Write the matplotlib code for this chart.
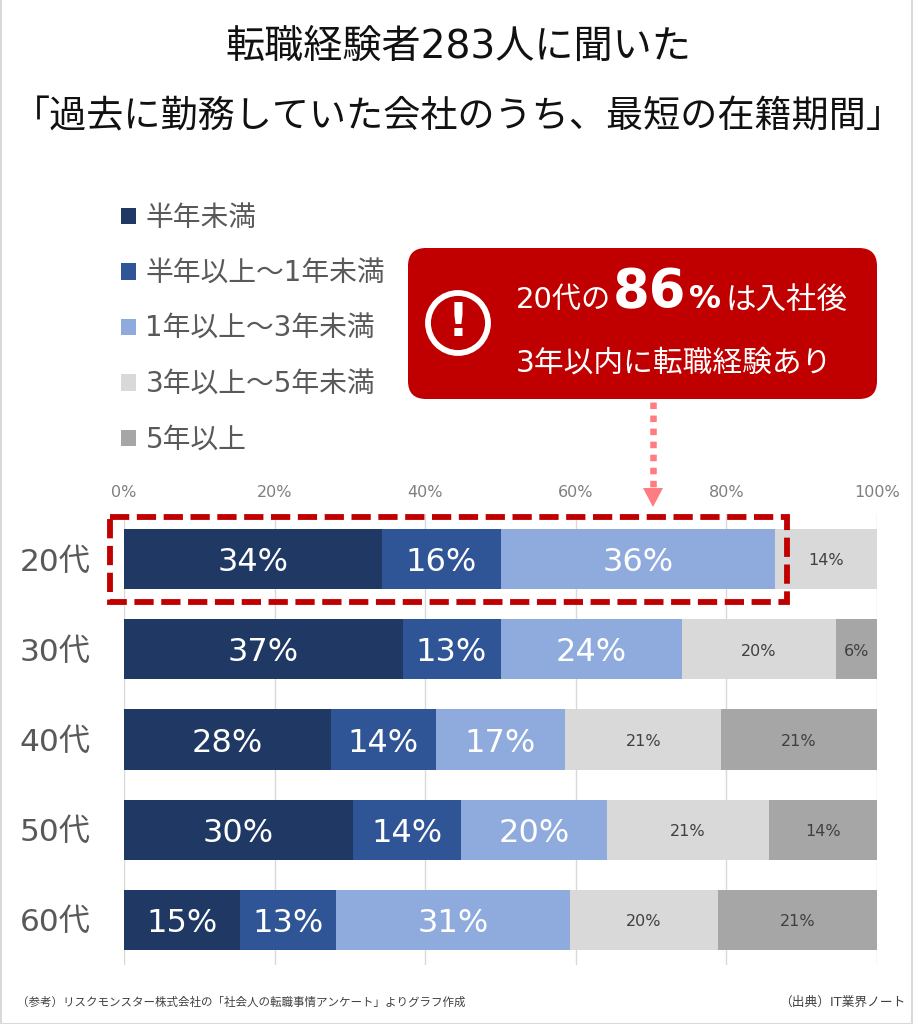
import matplotlib
matplotlib.use('Agg')
import matplotlib.pyplot as plt
from matplotlib.patches import FancyBboxPatch, Circle, Rectangle, Polygon

# Latin digits look like Verdana in the original, so DejaVu goes first
plt.rcParams['font.family'] = ['DejaVu Sans', 'Noto Sans CJK JP']

ages = ['20代', '30代', '40代', '50代', '60代']
under_half = [34.2, 37.0, 27.5, 30.4, 15.4]
half_to_1 = [15.9, 13.0, 13.9, 14.3, 12.8]
y1_to_3 = [36.4, 24.1, 17.2, 19.5, 31.0]
y3_to_5 = [13.5, 20.4, 20.7, 21.4, 19.7]
over_5 = [0.0, 5.5, 20.7, 14.4, 21.1]
series_names = ['半年未満', '半年以上～1年未満', '1年以上～3年未満', '3年以上～5年未満', '5年以上']
series_values = [under_half, half_to_1, y1_to_3, y3_to_5, over_5]
xticks = [0, 20, 40, 60, 80, 100]

colors = ['#1F3864', '#2F5597', '#8FAADC', '#D9D9D9', '#A6A6A6']
red = '#C00000'
pink = '#FF7C80'
W, H = 916, 1024

fig = plt.figure(figsize=(W / 100, H / 100), dpi=100)
ax = fig.add_axes([124 / W, 1 - 965 / H, 753 / W, 451 / H])

# stacked bars
left = [0.0] * len(ages)
for i, (name, vals) in enumerate(zip(series_names, series_values)):
    bars = ax.barh(range(len(ages)), vals, left=left, height=0.667, color=colors[i], label=name, zorder=2)
    for j, b in enumerate(bars):
        if vals[j] <= 0:
            continue
        cx = left[j] + vals[j] / 2
        if i < 3:
            ax.text(cx, j + 0.04, f'{round(vals[j])}%', color='white', fontsize=23, ha='center', va='center', zorder=3)
        else:
            ax.text(cx, j + 0.02, f'{round(vals[j])}%', color='#404040', fontsize=11.5, ha='center', va='center', zorder=3)
    left = [a + b for a, b in zip(left, vals)]

ax.set_xlim(0, 100)
ax.set_ylim(4.5, -0.5)
ax.set_xticks(xticks)
ax.set_xticklabels([f'{t}%' for t in xticks], fontsize=11.5, color='#7F7F7F')
ax.set_yticks(range(len(ages)))
ax.set_yticklabels(ages, fontsize=22.5, color='#595959')
ax.xaxis.tick_top()
ax.tick_params(axis='both', length=0)
ax.tick_params(axis='x', pad=10)
ax.tick_params(axis='y', pad=24)
ax.grid(axis='x', color='#D9D9D9', linewidth=1, zorder=0)
ax.set_axisbelow(True)
for s in ax.spines.values():
    s.set_visible(False)

ax.legend(loc='upper left', bbox_to_anchor=(121 / W, 1 - 204 / H), bbox_transform=fig.transFigure,
          frameon=False, fontsize=20, labelcolor='#595959', handlelength=0.54, handleheight=0.54,
          handletextpad=0.34, labelspacing=0.99, borderpad=0, borderaxespad=0)

# pixel overlay for title, callout and frame
ov = fig.add_axes([0, 0, 1, 1], facecolor='none')
ov.set_xlim(0, W)
ov.set_ylim(H, 0)
ov.axis('off')

ov.add_patch(Rectangle((0.5, -2), W - 5, H + 1.5, fill=False, edgecolor='#D9D9D9', linewidth=1.5))

ov.text(458, 47, '転職経験者283人に聞いた', fontsize=28.2, color='#111111', ha='center', va='center')
ov.text(458, 117, '「過去に勤務していた会社のうち、最短の在籍期間」', fontsize=26.7, color='#111111', ha='center', va='center')

# callout
ov.add_patch(FancyBboxPatch((426, 266), 433, 115, boxstyle='round,pad=18,rounding_size=18', linewidth=0, facecolor=red))
ov.add_patch(Circle((458, 323), 30, facecolor='none', edgecolor='white', linewidth=4.2))
ov.text(458, 324, '!', color='white', fontsize=33, fontweight='bold', ha='center', va='center')

ov.text(516, 300, '20代の', color='white', fontsize=21, ha='left', va='center')
ov.text(613, 292, '86', color='white', fontsize=38, fontweight='bold', ha='left', va='center')
ov.text(689, 300, '%', color='white', fontsize=23, fontweight='bold', ha='left', va='center')
ov.text(725, 300, 'は入社後', color='white', fontsize=22, ha='left', va='center')
ov.text(516, 363, '3年以内に転職経験あり', color='white', fontsize=21.4, ha='left', va='center')

# dotted arrow down to the bar
ov.plot([653, 653], [402, 489], color=pink, linewidth=4.7, linestyle=(0, (1, 1)))
ov.add_patch(Polygon([[643, 488], [663, 488], [653, 507]], closed=True, facecolor=pink, edgecolor='none'))

# dashed box around the 20s bar
ov.add_patch(Rectangle((110, 517), 677, 85, fill=False, edgecolor=red, linewidth=4.2, linestyle=(0, (3.3, 1.3))))

ov.text(17, 1002, '（参考）リスクモンスター株式会社の「社会人の転職事情アンケート」よりグラフ作成', fontsize=8.3, color='#404040', ha='left', va='center')
ov.text(905, 1002, '（出典）IT業界ノート', fontsize=9.2, color='#404040', ha='right', va='center')

fig.savefig('out.png', dpi=100, facecolor='white')
